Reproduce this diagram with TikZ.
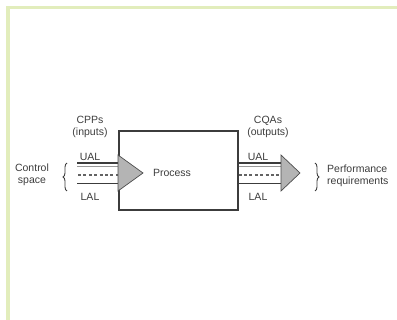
\documentclass[tikz,border=0pt]{standalone}
\usepackage{fontspec}
\setmainfont{Liberation Sans}
\usetikzlibrary{decorations.pathreplacing}
\definecolor{bordergreen}{HTML}{E2EDBC}
\definecolor{ink}{HTML}{3C3C3C}
\definecolor{tri}{HTML}{B4B4B4}
\tikzset{
  lbl/.style={inner sep=0pt, text=ink, font=\fontsize{10.5}{12}\selectfont, align=center},
  procbox/.style={draw=ink, line width=1.1pt, minimum width=119pt, minimum height=79pt, inner sep=0pt},
  shaftline/.style={draw=ink, line width=1.2pt},
  shaftthin/.style={draw=gray!80, line width=0.7pt},
  shaftdash/.style={draw=ink!80, line width=1.9pt, dash pattern=on 3pt off 2.4pt},
  arrowhead/.style={fill=tri, draw=gray!60!black, line width=0.7pt, line join=miter},
  bracestyle/.style={draw=ink, line width=0.9pt, decorate, decoration={brace, amplitude=4pt}}
}
\begin{document}
\begin{tikzpicture}[x=1pt, y=-1pt]
\useasboundingbox (0,0) rectangle (397,320);
% border
\fill[bordergreen] (6,6) rectangle (397,9);
\fill[bordergreen] (6,6) rectangle (10,320);
% process box
\node[procbox] (proc) at (178.5,170.5) {};
\node[lbl] (proctext) at (172,173) {Process};
% input shaft
\path[shaftline] (77,163) -- (proc.west |- 0,163);
\path[shaftthin] (77,166.5) -- (proc.west |- 0,166.5);
\path[shaftdash] (78,175) -- (proc.west |- 0,175);
\path[shaftline] (77,183.5) -- (proc.west |- 0,183.5);
\path[arrowhead] (118,155) -- (143,173) -- (118,191) -- cycle;
% output shaft
\path[shaftline] (proc.east |- 0,163) -- (282,163);
\path[shaftthin] (proc.east |- 0,166.5) -- (282,166.5);
\path[shaftdash] (proc.east |- 0,175) -- (282,175);
\path[shaftline] (proc.east |- 0,183.5) -- (282,183.5);
\path[arrowhead] (281,155) -- (300,173) -- (281,191) -- cycle;
% labels
\node[lbl] (cpp) at (90,127) {CPPs\\(inputs)};
\node[lbl] (ual1) at (90,157) {UAL};
\node[lbl] (lal1) at (90,197) {LAL};
\node[lbl] (ctrl) at (32,175) {Control\\space};
\node[lbl] (cqa) at (268,127) {CQAs\\(outputs)};
\node[lbl] (ual2) at (258,157) {UAL};
\node[lbl] (lal2) at (258,197) {LAL};
\node[lbl, anchor=west, align=left] (perf) at (327,176) {Performance\\requirements};
% braces
\coordinate (lbB) at (67,191);
\coordinate (lbT) at (67,163);
\coordinate (rbT) at (315,163);
\coordinate (rbB) at (315,191);
\draw[bracestyle] (lbB) -- (lbT);
\draw[bracestyle] (rbT) -- (rbB);
\end{tikzpicture}
\end{document}
